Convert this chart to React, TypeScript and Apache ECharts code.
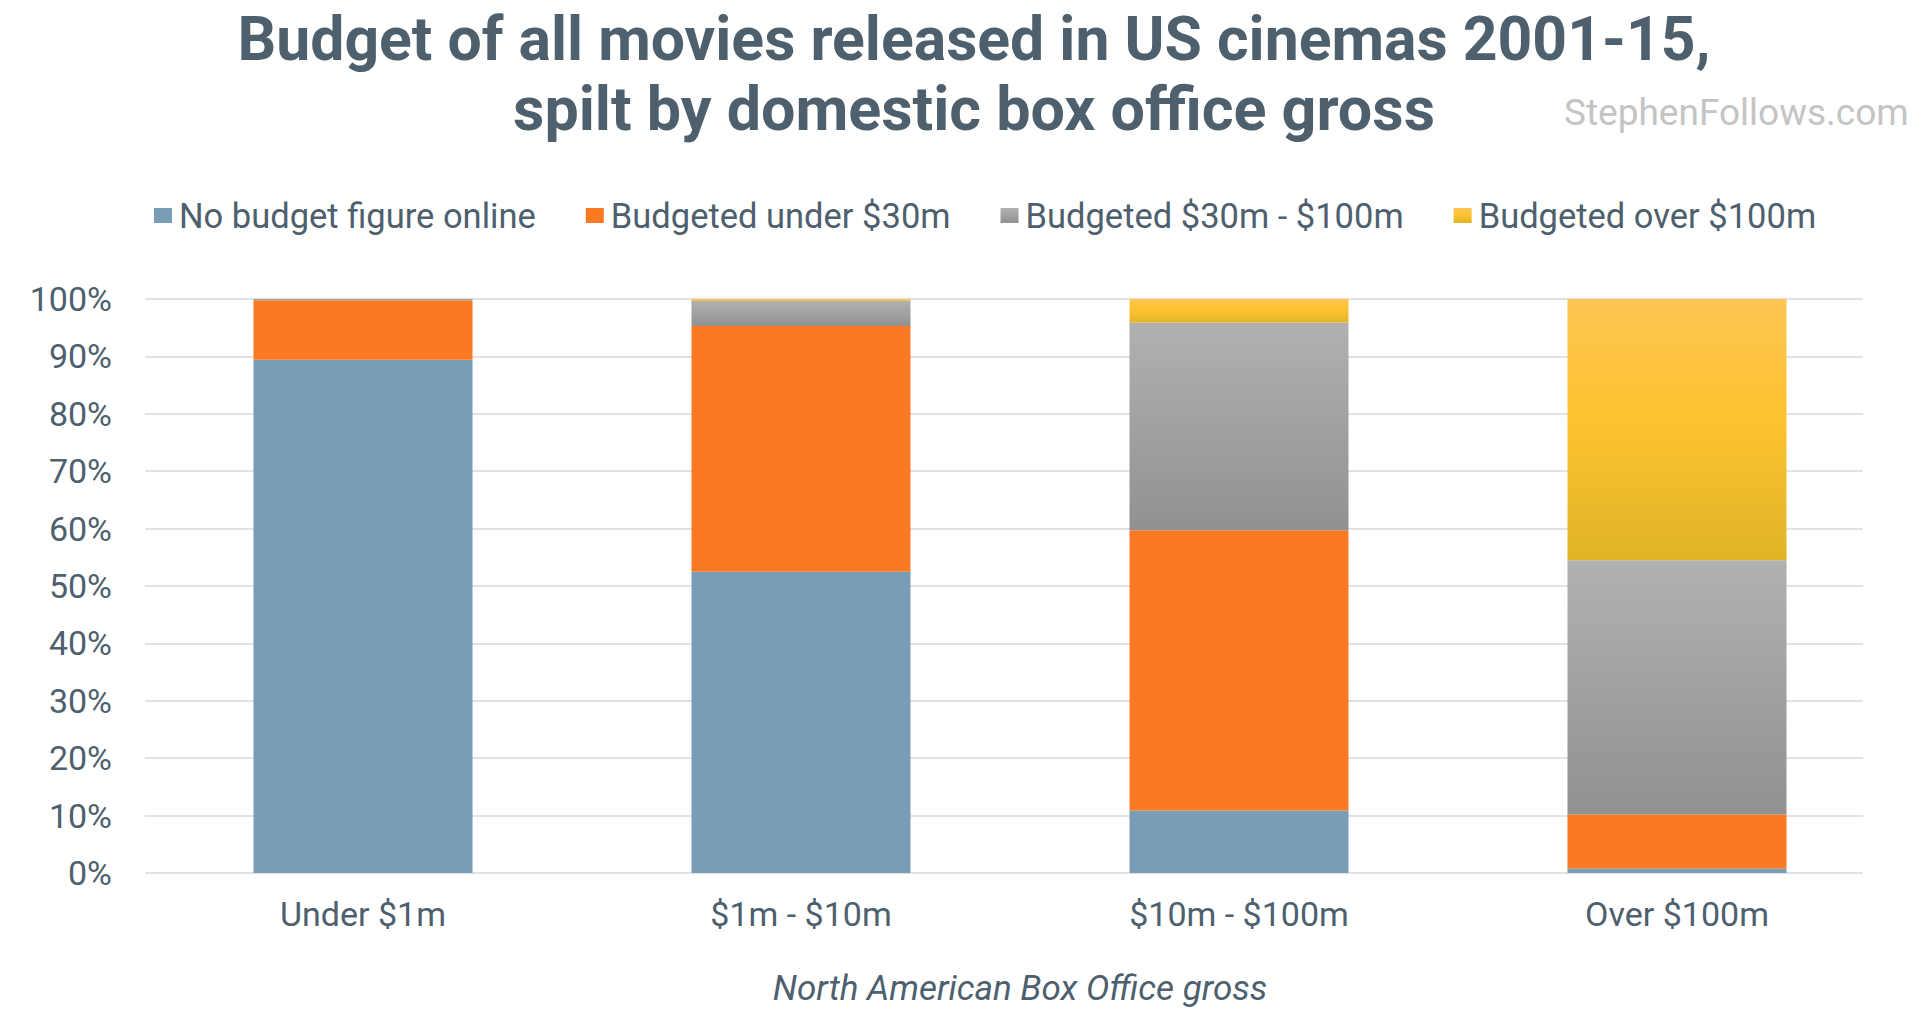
import React, { useEffect, useRef } from "react";
import * as echarts from "echarts";

const categories = ["Under $1m", "$1m - $10m", "$10m - $100m", "Over $100m"];
const seriesNames = [
  "No budget figure online",
  "Budgeted under $30m",
  "Budgeted $30m - $100m",
  "Budgeted over $100m",
];
const noBudget = [89.4, 52.5, 10.9, 0.8];
const under30 = [10.4, 42.8, 48.8, 9.4];
const mid30to100 = [0.2, 4.4, 36.2, 44.3];
const over100 = [0, 0.3, 4.1, 45.5];
const yTicks = [0, 10, 20, 30, 40, 50, 60, 70, 80, 90, 100];

const TEXT = "#4e5f6e";
const FONT = "Roboto";

export default function App() {
  const ref = useRef<HTMLDivElement>(null);
  useEffect(() => {
    document.body.style.margin = "0";
    if (!ref.current) return;
    const chart = echarts.init(ref.current, undefined, { renderer: "svg" });
    const greyGrad = new echarts.graphic.LinearGradient(0, 0, 0, 1, [
      { offset: 0, color: "#b1b1b1" },
      { offset: 1, color: "#919191" },
    ]);
    const yellowGrad = new echarts.graphic.LinearGradient(0, 0, 0, 1, [
      { offset: 0, color: "#fdc553" },
      { offset: 0.45, color: "#fec330" },
      { offset: 1, color: "#e0b428" },
    ]);
    const colors = ["#7a9db7", "#fa7a24", greyGrad, yellowGrad];
    const data = [noBudget, under30, mid30to100, over100];
    const yMin = yTicks[0];
    const yMax = yTicks[yTicks.length - 1];
    const yInt = yTicks[1] - yTicks[0];
    chart.setOption({
      animation: false,
      textStyle: { fontFamily: FONT },
      legend: {
        left: 154,
        top: 198,
        padding: 0,
        itemWidth: 18,
        itemHeight: 15,
        itemGap: 50,
        icon: "rect",
        textStyle: { fontFamily: FONT, fontSize: 34.5, color: TEXT, padding: [0, 0, 0, 2] },
        data: seriesNames,
      },
      grid: [
        { left: 145, right: 65, top: 299, bottom: 151, containLabel: false },
        { left: 144, right: 32, top: 299, bottom: 151, containLabel: false },
      ],
      xAxis: [
        {
          gridIndex: 0,
          type: "value",
          min: 0,
          max: 1,
          show: false,
        },
        {
          gridIndex: 1,
          type: "category",
          data: categories,
          axisLine: { show: false },
          axisTick: { show: false },
          axisLabel: { fontFamily: FONT, fontSize: 34, color: TEXT, margin: 24 },
          name: "North American Box Office gross",
          nameLocation: "middle",
          nameGap: 98,
          nameTextStyle: { fontFamily: FONT, fontSize: 35, fontStyle: "italic", color: TEXT },
        },
      ],
      yAxis: [
        {
          gridIndex: 0,
          type: "value",
          min: yMin,
          max: yMax,
          interval: yInt,
          axisLine: { show: false },
          axisTick: { show: false },
          splitLine: { lineStyle: { color: "#dfe3e8", width: 2 } },
          axisLabel: {
            fontFamily: FONT,
            fontSize: 34,
            color: TEXT,
            margin: 33,
            formatter: "{value}%",
          },
        },
        {
          gridIndex: 1,
          type: "value",
          min: yMin,
          max: yMax,
          interval: yInt,
          show: false,
          splitLine: { show: false },
        },
      ],
      series: seriesNames.map((name, i) => ({
        name,
        type: "bar",
        stack: "total",
        xAxisIndex: 1,
        yAxisIndex: 1,
        barWidth: "50%",
        data: data[i],
        itemStyle: { color: colors[i] },
      })),
      graphic: [
        {
          type: "text",
          x: 974,
          y: 39,
          style: {
            text: "Budget of all movies released in US cinemas 2001-15,",
            font: `bold 60.7px ${FONT}`,
            fill: TEXT,
            align: "center",
            verticalAlign: "middle",
          },
        },
        {
          type: "text",
          x: 974,
          y: 109,
          style: {
            text: "spilt by domestic box office gross",
            font: `bold 61px ${FONT}`,
            fill: TEXT,
            align: "center",
            verticalAlign: "middle",
          },
        },
        {
          type: "text",
          x: 1564,
          y: 112,
          style: {
            text: "StephenFollows.com",
            font: `37px ${FONT}`,
            fill: "#c4c4c4",
            align: "left",
            verticalAlign: "middle",
          },
        },
      ],
    });
    return () => chart.dispose();
  }, []);
  return <div ref={ref} style={{ width: 1928, height: 1024 }} />;
}
